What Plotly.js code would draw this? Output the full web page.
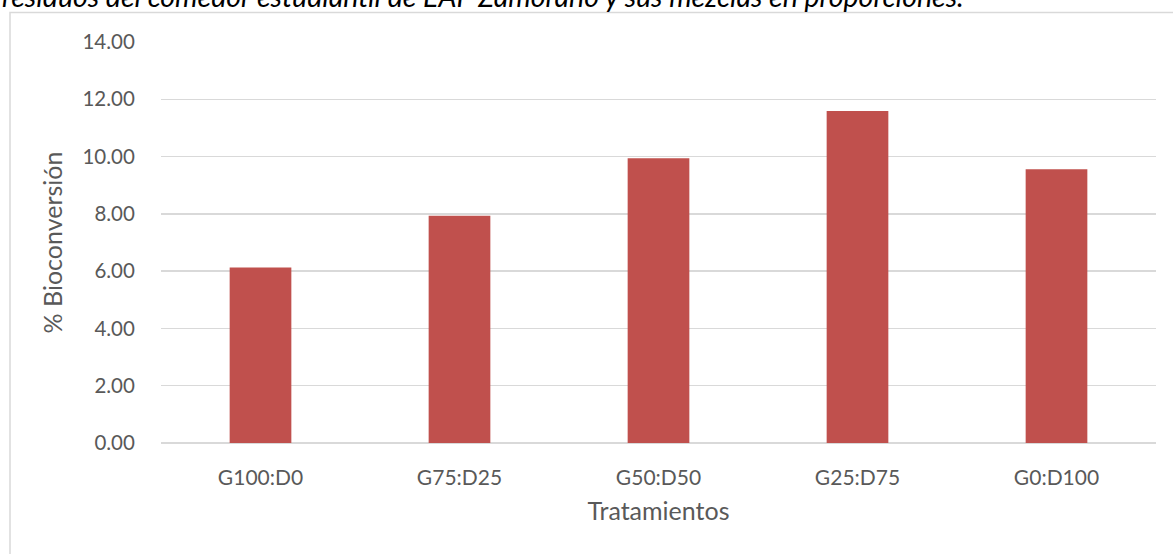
<!DOCTYPE html>
<html>
<head>
<meta charset="utf-8">
<script src="https://cdn.plot.ly/plotly-3.0.1.min.js"></script>
<style>html,body{margin:0;padding:0;background:#fff;}#chart{width:1173px;height:554px;}</style>
</head>
<body>
<div id="chart"></div>
<script>
var categories = ["G100:D0", "G75:D25", "G50:D50", "G25:D75", "G0:D100"];
var bioconversion = [6.13, 7.93, 9.94, 11.59, 9.56];
var yTicks = [0, 2, 4, 6, 8, 10, 12, 14];
var yTickLabels = ["0.00", "2.00", "4.00", "6.00", "8.00", "10.00", "12.00", "14.00"];
var captionText = "residuos del comedor estudiantil de EAP Zamorano y sus mezclas en proporciones.";
var xTitle = "Tratamientos";
var yTitle = "% Bioconversión";

var FONT = "Lato, 'Liberation Sans', sans-serif";
var W = 1173, H = 554, L = 161, R = 17, T = 42, B = 111;
var pw = W - L - R, ph = H - T - B;
function px2x(p){ return (p - L) / pw; }
function py2y(p){ return 1 - (p - T) / ph; }

var trace = {
  type: "bar",
  x: categories,
  y: bioconversion,
  marker: {color: "#C0504D"},
  hoverinfo: "x+y"
};

var layout = {
  width: W, height: H,
  margin: {l: L, r: R, t: T, b: B, pad: 0},
  paper_bgcolor: "#fff",
  plot_bgcolor: "#fff",
  showlegend: false,
  bargap: 0.69,
  font: {family: FONT, color: "#595959"},
  xaxis: {
    type: "category",
    showgrid: false,
    zeroline: false,
    showline: false,
    ticks: "",
    ticklabelstandoff: 20,
    tickfont: {family: FONT, size: 21, color: "#595959"},
    title: {text: xTitle, font: {family: FONT, size: 25, color: "#595959"}, standoff: 14}
  },
  yaxis: {
    range: [0, 14],
    tickvals: yTicks,
    ticktext: yTickLabels,
    showgrid: true,
    gridcolor: "#D9D9D9",
    gridwidth: 1.3,
    zeroline: true,
    zerolinecolor: "#D9D9D9",
    zerolinewidth: 1.3,
    showline: false,
    ticks: "outside",
    ticklen: 21,
    tickcolor: "rgba(0,0,0,0)",
    tickfont: {family: FONT, size: 20.5, color: "#595959"},
    title: {text: yTitle, font: {family: FONT, size: 25, color: "#595959"}, standoff: 12}
  },
  shapes: [{
    type: "rect", xref: "paper", yref: "paper", layer: "below",
    x0: px2x(10), x1: px2x(1190), y0: py2y(600), y1: py2y(12.5),
    line: {color: "#D9D9D9", width: 1.5}, fillcolor: "rgba(0,0,0,0)"
  }],
  annotations: [{
    xref: "paper", yref: "paper",
    x: px2x(0), y: py2y(-4), xanchor: "left", yanchor: "middle",
    text: "<i>" + captionText + "</i>",
    showarrow: false,
    font: {family: FONT, size: 28.5, color: "#000"}
  }]
};

Plotly.newPlot("chart", [trace], layout, {displayModeBar: false, staticPlot: true});
</script>
</body>
</html>
